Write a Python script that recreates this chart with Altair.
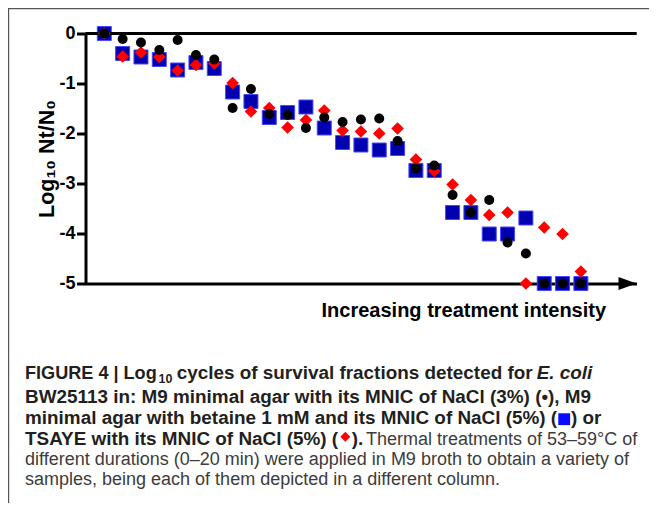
import altair as alt
import pandas as pd

# ---------------- data ----------------
columns = list(range(27))
m9_nacl3 = [0, -0.11, -0.18, -0.33, -0.13, -0.43, -0.52, -1.49, -1.11, -1.61,
            -1.63, -1.89, -1.68, -1.77, -1.72, -1.70, -2.15, -2.70, -2.64, -3.23,
            -3.58, -3.33, -4.18, -4.40, -5.00, -5.00, -5.00]
m9_betaine = [0, -0.40, -0.47, -0.52, -0.73, -0.58, -0.70, -1.17, -1.36, -1.68,
              -1.58, -1.47, -1.89, -2.18, -2.23, -2.33, -2.30, -2.74, -2.74, -3.58,
              -3.58, -4.01, -4.01, -3.69, -5.00, -5.00, -5.00]
tsaye = [0, -0.46, -0.38, -0.47, -0.74, -0.63, -0.60, -0.99, -1.56, -1.49,
         -1.88, -1.73, -1.54, -1.94, -1.96, -2.00, -1.90, -2.52, -2.75, -3.02,
         -3.33, -3.63, -3.58, -5.00, -3.88, -4.01, -4.76]
y_tick_values = [0, -1, -2, -3, -4, -5]
x_title = "Increasing treatment intensity"
y_title = "Log₁₀ Nt/N₀"

cap_line1 = ["FIGURE 4 | Log", "10", "cycles of survival fractions detected for", "E. coli"]
cap_line2 = ["BW25113 in: M9 minimal agar with its MNIC of NaCl (3%) (•), M9"]
cap_line3 = ["minimal agar with betaine 1 mM and its MNIC of NaCl (5%) (", ") or"]
cap_line4 = ["TSAYE with its MNIC of NaCl (5%) (", ").", "Thermal treatments of 53–59°C of"]
cap_line5 = ["different durations (0–20 min) were applied in M9 broth to obtain a variety of"]
cap_line6 = ["samples, being each of them depicted in a different column."]

# ---------------- layout ----------------
FONT = "Liberation Sans"
OX, OY = 85.5, 33.5          # page position of the plot area
W, H = 551, 250
TOTAL_W, TOTAL_H = 641, 495
PAD = {"left": OX - 8, "top": OY - 8, "right": TOTAL_W - (OX - 8) - W,
       "bottom": TOTAL_H - (OY - 8) - H}
STEP = 18.33
X_DOMAIN = [-18.8 / STEP, -18.8 / STEP + W / STEP]

def rx(x_abs):
    return x_abs - OX

def ry(y_abs):
    return y_abs - OY

xs = alt.Scale(domain=X_DOMAIN, nice=False, zero=False)
ys = alt.Scale(domain=[-5, 0], nice=False, zero=False)

def series_df(vals):
    return pd.DataFrame({"col": columns, "val": vals})

x_axis = alt.Axis(domain=True, domainColor="black", domainWidth=3, ticks=False,
                  labels=False, grid=False, title=x_title, titleFont=FONT,
                  titleFontSize=20, titleFontWeight="bold", titleColor="black",
                  titleX=rx(463.3), titleY=33.2, titleAlign="center",
                  titleBaseline="alphabetic")
y_axis = alt.Axis(values=y_tick_values, domain=True, domainColor="black", domainWidth=3,
                  ticks=True, tickColor="black", tickWidth=3, tickSize=9,
                  labels=True, labelFont=FONT, labelFontSize=18, labelFontWeight="bold",
                  labelColor="black", labelPadding=1.5,
                  labelExpr="datum.value == 0 ? '0' : '-' + abs(datum.value)",
                  grid=False, title=y_title, titleFont=FONT, titleFontSize=21.5,
                  titleFontWeight="bold", titleColor="black", titleAngle=270,
                  titleX=rx(53), titleY=H / 2, titleAlign="center",
                  titleBaseline="alphabetic")

X_ENC = alt.X("col:Q", scale=xs, axis=x_axis)
Y_ENC = alt.Y("val:Q", scale=ys, axis=y_axis)

squares = alt.Chart(series_df(m9_betaine)).mark_point(
    shape="square", filled=True, size=196, fill="#0000b0", stroke="#4646ff",
    strokeWidth=1, opacity=1
).encode(x=X_ENC, y=Y_ENC)

diamonds = alt.Chart(series_df(tsaye)).mark_point(
    shape="diamond", filled=True, size=160, color="#ff0000", opacity=1
).encode(x=X_ENC, y=Y_ENC)

circles = alt.Chart(series_df(m9_nacl3)).mark_circle(
    size=100, color="black", opacity=1
).encode(x=X_ENC, y=Y_ENC)

one = pd.DataFrame({"k": [0]})

zero_line = alt.Chart(pd.DataFrame({"val": [0]})).mark_rule(
    color="black", strokeWidth=3
).encode(x=alt.value(0), x2=alt.value(rx(636.7)), y=Y_ENC)

arrow = alt.Chart(one).mark_point(
    shape="M -1 -0.72 L 1 0 L -1 0.72 Z", filled=True, size=324, color="black", opacity=1
).encode(x=alt.value(W - 9), y=alt.value(H))

frame_top = alt.Chart(one).mark_rule(color="#555555", strokeWidth=1.2).encode(
    x=alt.value(rx(8)), x2=alt.value(rx(8 + TOTAL_W)), y=alt.value(ry(8.6)))
frame_left = alt.Chart(one).mark_rule(color="#555555", strokeWidth=1.2).encode(
    x=alt.value(rx(8.6)), y=alt.value(ry(8)), y2=alt.value(ry(8 + TOTAL_H)))

BOLD_C = "#231f20"
REG_C = "#3c3c3c"

def txt(s, x_abs, y_abs, size=18.9, weight="bold", style="normal", color=BOLD_C):
    return alt.Chart(pd.DataFrame({"t": [s]})).mark_text(
        align="left", baseline="alphabetic", font=FONT, fontSize=size,
        fontWeight=weight, fontStyle=style, color=color
    ).encode(text="t:N", x=alt.value(rx(x_abs)), y=alt.value(ry(y_abs)))

captions = [
    txt(cap_line1[0], 25, 378.5, size=18.1),
    txt(cap_line1[1], 158.5, 383, size=12.5),
    txt(cap_line1[2], 176.7, 378.5),
    txt(cap_line1[3], 536.7, 378.5, style="italic"),
    txt(cap_line2[0], 25, 403.3),
    txt(cap_line3[0], 25, 424.3),
    txt(cap_line3[1], 571, 424.3),
    txt(cap_line4[0], 25, 444.5),
    txt(cap_line4[1], 351.7, 444.5),
    txt(cap_line4[2], 366, 444.5, size=18, weight="normal", color=REG_C),
    txt(cap_line5[0], 25, 464.8, size=18, weight="normal", color=REG_C),
    txt(cap_line6[0], 25, 485, size=18, weight="normal", color=REG_C),
]

cap_square = alt.Chart(one).mark_point(
    shape="square", filled=True, size=140, color="#0a0aff", opacity=1
).encode(x=alt.value(rx(564.2)), y=alt.value(ry(419.2)))
cap_diamond = alt.Chart(one).mark_point(
    shape="diamond", filled=True, size=100, color="#ff0000", opacity=1
).encode(x=alt.value(rx(345.3)), y=alt.value(ry(436.7)))

chart = alt.layer(
    squares, zero_line, diamonds, circles, frame_top, frame_left, arrow,
    *captions, cap_square, cap_diamond
).properties(
    width=W, height=H,
    autosize=alt.AutoSizeParams(type="none"),
    padding=PAD,
).configure_view(stroke=None)

chart.save("out.html", embed_options={"renderer": "svg", "actions": False})
